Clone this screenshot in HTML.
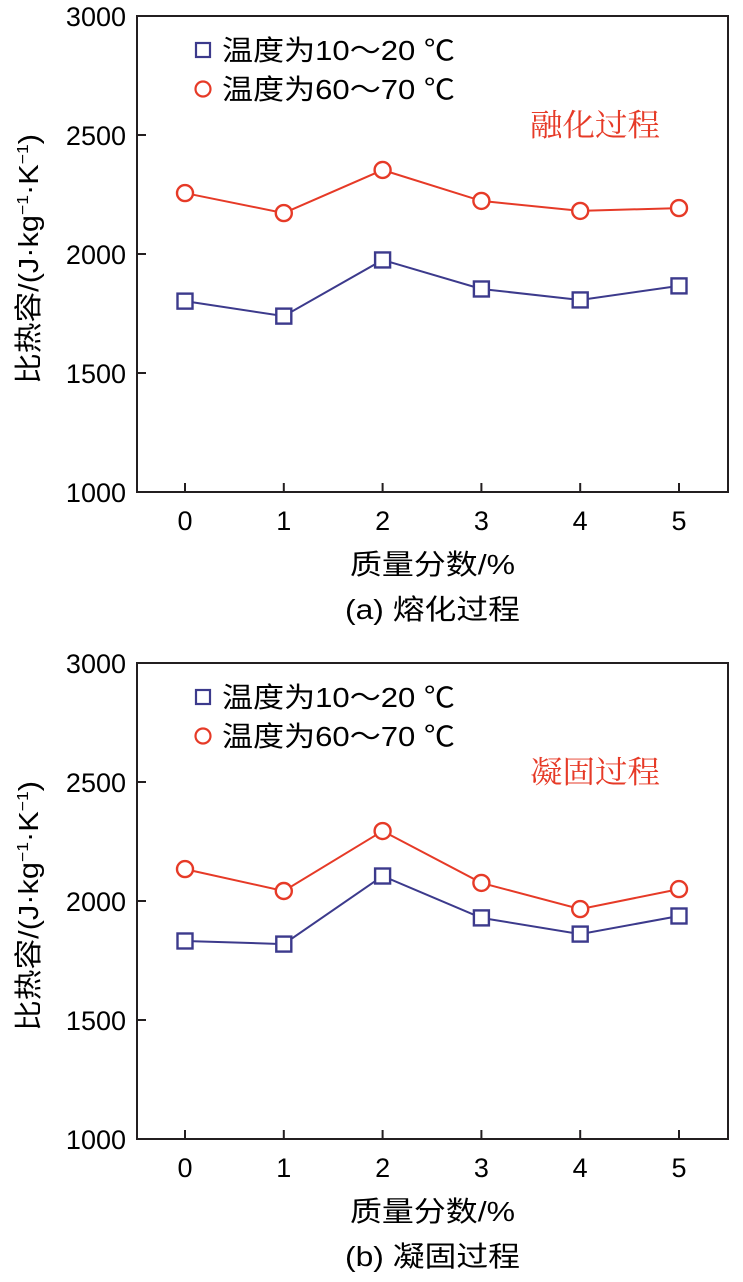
<!DOCTYPE html>
<html><head><meta charset="utf-8">
<style>
html,body{margin:0;padding:0;background:#fff;}
svg{display:block;}
</style></head>
<body>
<svg id="chart" width="743" height="1282" viewBox="0 0 743 1282" xmlns="http://www.w3.org/2000/svg"></svg>
<script>
const categories = [0, 1, 2, 3, 4, 5];
const yTicks = [1000, 1500, 2000, 2500, 3000];
const meltLow = [1802, 1739, 1975, 1853, 1807, 1866];
const meltHigh = [2256, 2172, 2353, 2223, 2181, 2193];
const solidLow = [1832, 1819, 2105, 1929, 1861, 1937];
const solidHigh = [2134, 2042, 2294, 2076, 1966, 2050];
const legendLabels = ["温度为10～20 ℃", "温度为60～70 ℃"];

const NS = "http://www.w3.org/2000/svg";
const svg = document.getElementById('chart');
const BLUE = "#3c3a8c", RED = "#e63a27";
const FONT = '"Liberation Sans", "Noto Sans CJK SC", sans-serif';
const SERIF = '"Liberation Serif", "Noto Serif CJK SC", serif';

function mk(tag, attrs, parent) {
  const e = document.createElementNS(NS, tag);
  for (const k in attrs) e.setAttribute(k, attrs[k]);
  (parent || svg).appendChild(e);
  return e;
}

function panel(top, low, high, note, caption, key) {
  const g = mk('g', {});
  
  
  const L = 137, R = 728, T = top, B = top + 476;
  const x = v => 185 + (v - categories[0]) * 98.8;
  const y = v => B - (v - 1000) / 2000 * (B - T);
  const frame = mk('rect', {x: L, y: T, width: R - L, height: B - T, fill: 'none', stroke: '#231f20', 'stroke-width': 2}, g);
  
  
  yTicks.forEach(v => {
    const t = mk('line', {x1: L, x2: L + 9, y1: y(v), y2: y(v), stroke: '#231f20', 'stroke-width': 2}, g);
    
    
    const tx = mk('text', {x: L - 11, y: y(v) + 10, 'text-anchor': 'end', 'font-size': 27, 'font-family': FONT}, g);
    tx.textContent = v;
    
    
  });
  categories.forEach(c => {
    const t = mk('line', {x1: x(c), x2: x(c), y1: B, y2: B - 9, stroke: '#231f20', 'stroke-width': 2}, g);
    
    
    const tx = mk('text', {x: x(c), y: B + 38, 'text-anchor': 'middle', 'font-size': 27, 'font-family': FONT}, g);
    tx.textContent = c;
    
    
  });
  const xt = mk('text', {x: 350, y: B + 82, 'font-size': 28, 'font-family': FONT, textLength: 165, lengthAdjust: 'spacingAndGlyphs'}, g);
  xt.textContent = '质量分数/%';
  
  
  const yt = mk('text', {transform: `translate(38 ${T + 368}) rotate(-90)`, 'font-size': 28, 'font-family': FONT, textLength: 250, lengthAdjust: 'spacingAndGlyphs'}, g);
  yt.innerHTML = '比热容/(J·kg<tspan dy="-10" font-size="16">−1</tspan><tspan dy="10">·K</tspan><tspan dy="-10" font-size="16">−1</tspan><tspan dy="10">)</tspan>';
  
  
  const cap = mk('text', {x: 345, y: B + 127, 'font-size': 28, 'font-family': FONT, textLength: 175, lengthAdjust: 'spacingAndGlyphs'}, g);
  cap.textContent = caption;
  
  
  const nt = mk('text', {x: 530, y: T + 120, 'font-size': 31, 'font-family': SERIF, fill: RED, textLength: 130, lengthAdjust: 'spacingAndGlyphs'}, g);
  nt.textContent = note;
  
  

  const lowLine = mk('polyline', {points: low.map((v, i) => x(categories[i]) + ',' + y(v)).join(' '), fill: 'none', stroke: BLUE, 'stroke-width': 2}, g);
  
  
  const highLine = mk('polyline', {points: high.map((v, i) => x(categories[i]) + ',' + y(v)).join(' '), fill: 'none', stroke: RED, 'stroke-width': 2}, g);
  
  
  low.forEach((v, i) => {
    const m = mk('rect', {x: x(categories[i]) - 7.5, y: y(v) - 7.5, width: 15, height: 15, fill: '#fff', stroke: BLUE, 'stroke-width': 2.4}, g);
    
    
  });
  high.forEach((v, i) => {
    const m = mk('circle', {cx: x(categories[i]), cy: y(v), r: 8, fill: '#fff', stroke: RED, 'stroke-width': 2.4}, g);
    
    
  });

  const lg = mk('g', {}, g);
  
  
  const ls = mk('rect', {x: 196, y: T + 27, width: 14, height: 14, fill: '#fff', stroke: BLUE, 'stroke-width': 2.2}, lg);
  
  
  const lc = mk('circle', {cx: 203, cy: T + 73, r: 7.5, fill: '#fff', stroke: RED, 'stroke-width': 2.2}, lg);
  
  
  legendLabels.forEach((s, i) => {
    const t = mk('text', {x: 222, y: T + 44 + i * 39, 'font-size': 28, 'font-family': FONT, textLength: 233, lengthAdjust: 'spacingAndGlyphs'}, lg);
    t.textContent = s;
    
    
  });
}

panel(16, meltLow, meltHigh, '融化过程', '(a) 熔化过程', 'a');
panel(663, solidLow, solidHigh, '凝固过程', '(b) 凝固过程', 'b');
</script>
</body></html>
